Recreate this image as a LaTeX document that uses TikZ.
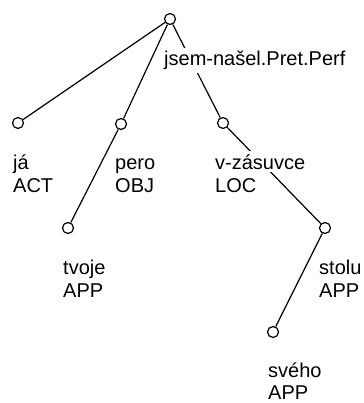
\documentclass[tikz,border=0pt]{standalone}
\usepackage{fontspec}
\setmainfont{Liberation Sans}
\begin{document}
\begin{tikzpicture}[x=1pt,y=-1pt,
  tnode/.style={circle,draw,fill=white,line width=1.2pt,minimum size=11pt,inner sep=0pt},
  edge/.style={line width=1.2pt},
  lbl/.style={anchor=base west,fill=white,inner xsep=1pt,inner ysep=3pt,
    font=\fontsize{20}{23}\selectfont}]
\useasboundingbox (0,0) rectangle (363,403);
% tree nodes
\node[tnode] (root) at (170,19) {};
\node[tnode] (ja)   at (18,123) {};
\node[tnode] (pero) at (121,124) {};
\node[tnode] (vz)   at (223,123) {};
\node[tnode] (tv)   at (68,228) {};
\node[tnode] (st)   at (325,228) {};
\node[tnode] (sv)   at (273,332) {};
% dependency edges
\draw[edge] (root) -- (ja);
\draw[edge] (root) -- (pero);
\draw[edge] (root) -- (vz);
\draw[edge] (pero) -- (tv);
\draw[edge] (vz) -- (st);
\draw[edge] (st) -- (sv);
% word forms and functors
\node[lbl] (rootw) at (163,66) {jsem-našel.Pret.Perf};
\node[lbl] (jaw)  at (12,169) {já};
\node[lbl] (jaf)  at (12,192) {ACT};
\node[lbl] (perow) at (114,169) {pero};
\node[lbl] (perof) at (114,192) {OBJ};
\node[lbl] (vzw)  at (214,169) {v-zásuvce};
\node[lbl] (vzf)  at (214,192) {LOC};
\node[lbl] (tvw)  at (62,274) {tvoje};
\node[lbl] (tvf)  at (62,297) {APP};
\node[lbl] (stw)  at (318,274) {stolu};
\node[lbl] (stf)  at (318,297) {APP};
\node[lbl] (svw)  at (267,377) {svého};
\node[lbl,inner ysep=1pt] (svf)  at (267,399) {APP};
\end{tikzpicture}
\end{document}
